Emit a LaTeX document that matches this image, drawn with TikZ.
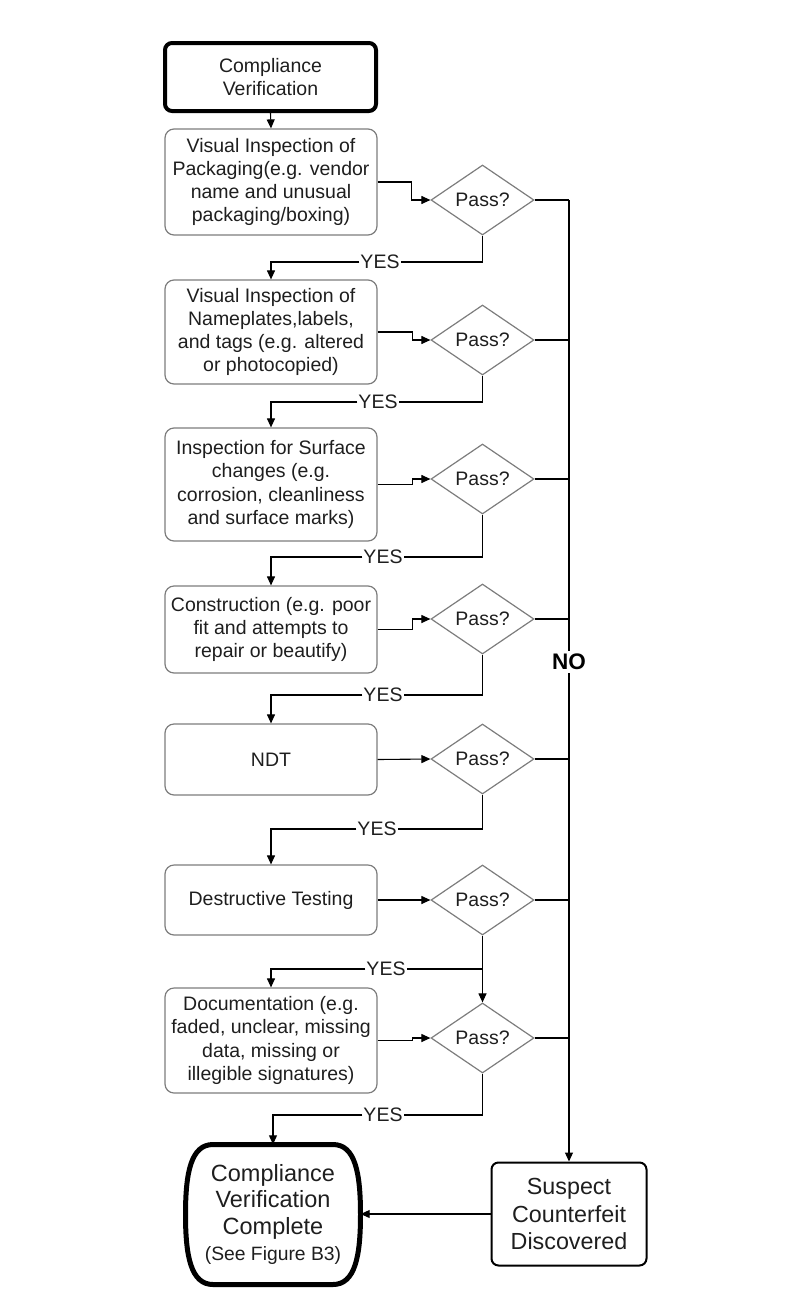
\documentclass[tikz,border=0pt]{standalone}
\usepackage{fontspec}
\setmainfont{Liberation Sans}
\usetikzlibrary{shapes.geometric,arrows.meta}
\definecolor{boxgray}{RGB}{125,125,125}
\definecolor{txt}{RGB}{30,30,30}
\begin{document}
\begin{tikzpicture}[x=1pt,y=-1pt,
  conn/.style={draw=black,line width=1.1pt},
  arr/.style={conn,-{Triangle[length=9pt,width=8pt]}},
  procbox/.style={draw=boxgray,line width=1.2pt,rounded corners=9pt,minimum width=212pt,
    align=center,inner sep=0pt,text=txt,font=\fontsize{19.5}{23.3}\selectfont},
  startbox/.style={draw=black,line width=4pt,rounded corners=7pt,minimum width=211pt,minimum height=68pt,
    align=center,inner sep=0pt,text=txt,font=\fontsize{19.5}{22.5}\selectfont},
  decision/.style={diamond,draw=boxgray,line width=1.2pt,minimum width=103pt,minimum height=70pt,
    aspect=1.47,inner sep=0pt,text=txt,font=\fontsize{19.5}{23}\selectfont},
  yeslbl/.style={fill=white,inner xsep=1pt,inner ysep=1pt,text=txt,font=\fontsize{19.5}{23}\selectfont},
  nolbl/.style={fill=white,inner xsep=1pt,inner ysep=3pt,text=black,font=\fontsize{22.5}{26}\selectfont\bfseries},
  endbox/.style={draw=black,line width=2pt,rounded corners=7pt,minimum width=155pt,minimum height=103pt,
    align=center,inner sep=0pt,text=txt,font=\fontsize{23.3}{27.5}\selectfont},
  termtext/.style={minimum width=175pt,minimum height=140pt,align=center,inner sep=0pt,text=txt,
    font=\fontsize{23.5}{26.5}\selectfont},
  termline/.style={draw=black,line width=5pt}
]
\useasboundingbox (0,0) rectangle (797,1315);

% process boxes
\node[startbox] (start) at (270.5,77) {Compliance\\Verification};
\node[procbox,minimum height=106pt] (b1) at (271,182) {Visual Inspection of\\Packaging(e.g. vendor\\name and unusual\\packaging/boxing)};
\node[procbox,minimum height=104pt] (b2) at (271,332) {Visual Inspection of\\Nameplates,labels,\\and tags (e.g. altered\\or photocopied)};
\node[procbox,minimum height=113pt] (b3) at (271,484.5) {Inspection for Surface\\changes (e.g.\\corrosion, cleanliness\\and surface marks)};
\node[procbox,minimum height=87pt] (b4) at (271,629.5) {Construction (e.g. poor\\fit and attempts to\\repair or beautify)};
\node[procbox,minimum height=71pt] (b5) at (271,759.5) {NDT};
\node[procbox,minimum height=70pt] (b6) at (271,900) {Destructive Testing};
\node[procbox,minimum height=105pt] (b7) at (271,1040.5) {Documentation (e.g.\\faded, unclear, missing\\data, missing or\\illegible signatures)};

% decisions
\node[decision] (d1) at (482.5,200) {Pass?};
\node[decision] (d2) at (482.5,340) {Pass?};
\node[decision] (d3) at (482.5,479) {Pass?};
\node[decision] (d4) at (482.5,619) {Pass?};
\node[decision] (d5) at (482.5,759) {Pass?};
\node[decision] (d6) at (482.5,900) {Pass?};
\node[decision] (d7) at (482.5,1038) {Pass?};

% terminal nodes
\node[termtext] (done) at (273,1214.5) {Compliance\\Verification\\Complete\\{\fontsize{19.3}{25}\selectfont (See Figure B3)}};
\draw[termline,shift={(done.center)}] (-60,-70) -- (60,-70)
  .. controls (82,-70) and (87.5,-42) .. (87.5,0)
  .. controls (87.5,42) and (82,70) .. (60,70) -- (-60,70)
  .. controls (-82,70) and (-87.5,42) .. (-87.5,0)
  .. controls (-87.5,-42) and (-82,-70) .. (-60,-70) -- cycle;
\node[endbox] (susp) at (569,1214) {Suspect\\Counterfeit\\Discovered};

% main flow
\draw[arr] (start.south) -- (b1.north);
\draw[arr] (b1.east) -- ++(34,0) |- (d1.west);
\draw[arr] (b2.east) -- ++(35,0) |- (d2.west);
\draw[arr] (b3.east) -- ++(35,0) |- (d3.west);
\draw[arr] (b4.east) -- ++(35,0) |- (d4.west);
\draw[arr] (b5.east) -- (d5.west);
\draw[arr] (b6.east) -- (d6.west);
\draw[arr] (b7.east) -- ++(35,0) |- (d7.west);

% YES branches
\node[yeslbl] (y1) at (380,262) {YES};
\node[yeslbl] (y2) at (378,402) {YES};
\node[yeslbl] (y3) at (383,557) {YES};
\node[yeslbl] (y4) at (383,695) {YES};
\node[yeslbl] (y5) at (377,829) {YES};
\node[yeslbl] (y6) at (386,969) {YES};
\node[yeslbl] (y7) at (383,1115) {YES};
\draw[conn] (d1.south) |- (y1.east); \draw[arr] (y1.west) -| (b2.north);
\draw[conn] (d2.south) |- (y2.east); \draw[arr] (y2.west) -| (b3.north);
\draw[conn] (d3.south) |- (y3.east); \draw[arr] (y3.west) -| (b4.north);
\draw[conn] (d4.south) |- (y4.east); \draw[arr] (y4.west) -| (b5.north);
\draw[conn] (d5.south) |- (y5.east); \draw[arr] (y5.west) -| (b6.north);
\draw[conn] (d6.south) |- (y6.east); \draw[arr] (y6.west) -| (b7.north);
\coordinate (j6) at (d6.south |- y6.east);
\draw[arr] (j6) -- (d7.north);
\draw[conn] (d7.south) |- (y7.east); \draw[arr] (y7.west) -| (done.north);

% NO branch
\node[nolbl] (no) at (569,662) {NO};
\coordinate (n1) at (d1.east -| no.north);
\draw[conn] (d1.east) -- (n1);
\draw[conn] (d2.east) -- (d2.east -| no.north);
\draw[conn] (d3.east) -- (d3.east -| no.north);
\draw[conn] (d4.east) -- (d4.east -| no.north);
\draw[conn] (d5.east) -- (d5.east -| no.north);
\draw[conn] (d6.east) -- (d6.east -| no.north);
\draw[conn] (d7.east) -- (d7.east -| no.north);
\draw[conn] (n1) -- (no.north);
\draw[arr] (no.south) -- (susp.north);
\draw[arr] (susp.west) -- (susp.west -| done.east);
\end{tikzpicture}
\end{document}
